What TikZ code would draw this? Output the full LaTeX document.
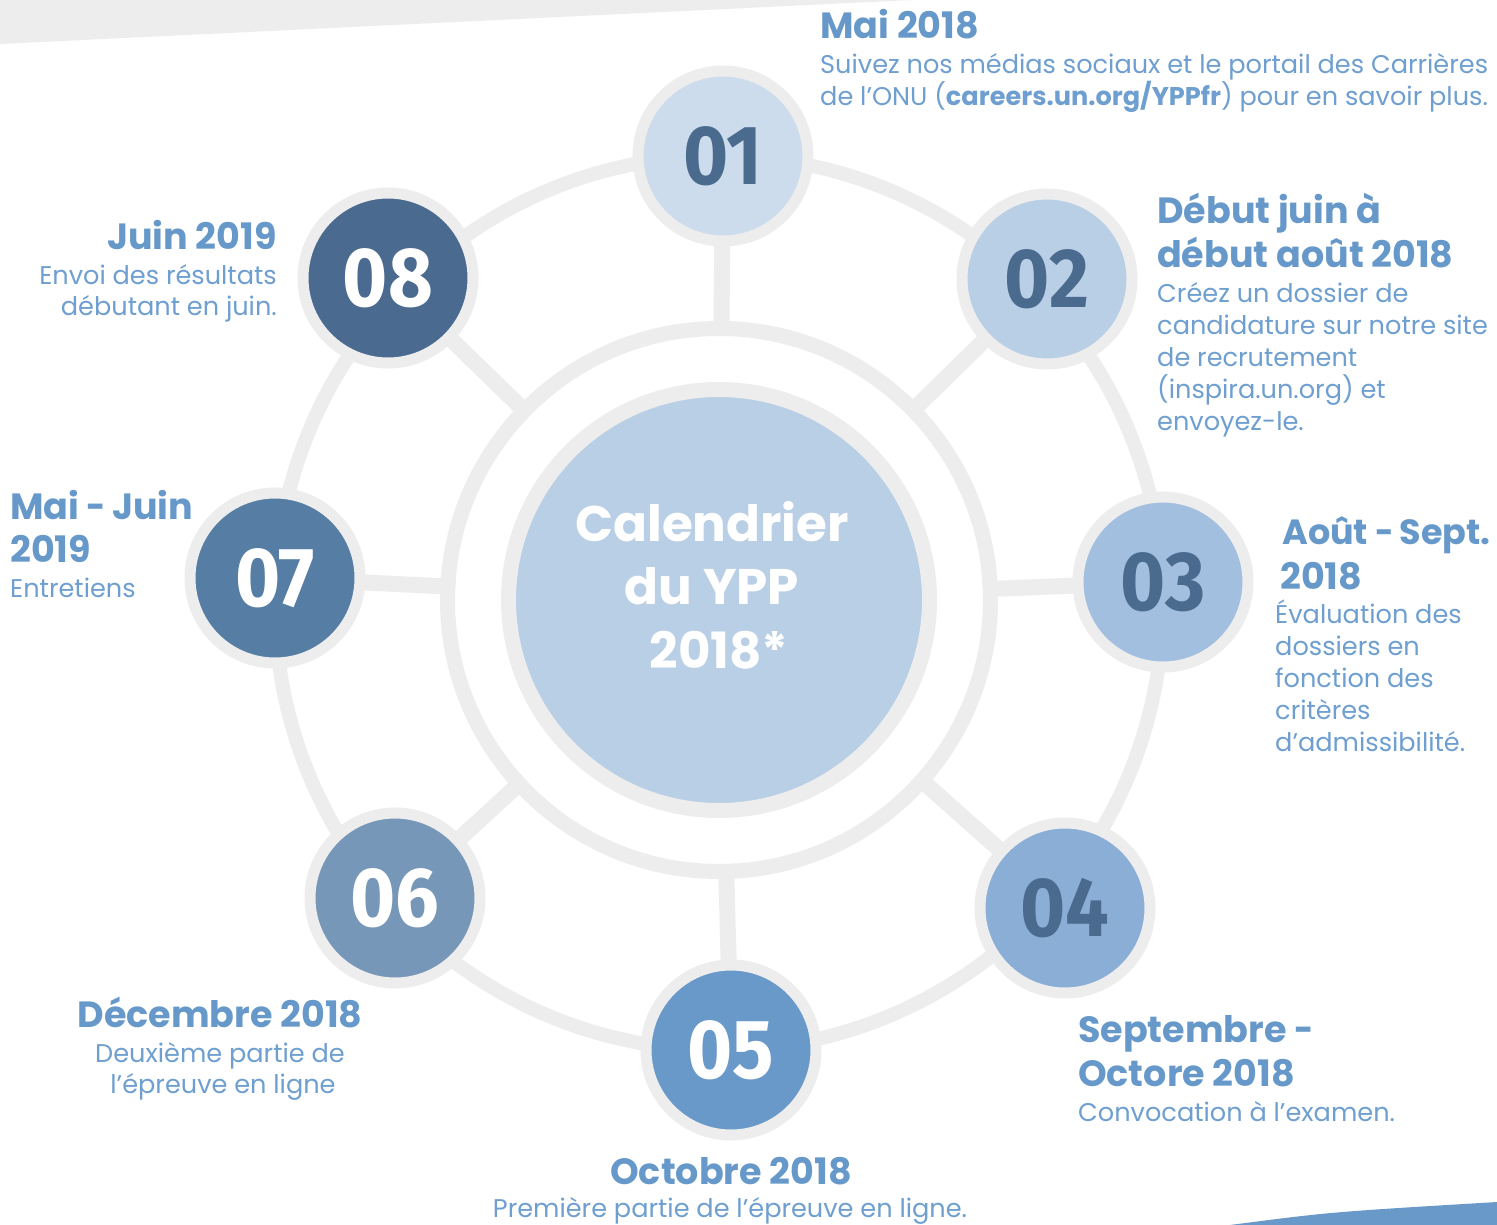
\documentclass[tikz,border=0pt]{standalone}
\usepackage{fontspec}
\setmainfont{Poppins}
\newfontfamily\numfont{Fira Sans}
\definecolor{gr}{HTML}{EDEDED}
\definecolor{tc}{HTML}{6699C9}
\definecolor{bc}{HTML}{6E9FD0}
\definecolor{nd}{HTML}{4A6A8E}
\definecolor{c1}{HTML}{CCDCEC}
\definecolor{c2}{HTML}{B9CFE6}
\definecolor{c3}{HTML}{A3BFDF}
\definecolor{c4}{HTML}{8AAED6}
\definecolor{c5}{HTML}{6999C9}
\definecolor{c6}{HTML}{7797B8}
\definecolor{c7}{HTML}{567EA5}
\definecolor{c8}{HTML}{4A6B8F}
\definecolor{cc}{HTML}{B9CFE5}
\tikzset{
  spoke/.style={draw=gr, line width=16},
  ring/.style={draw=gr, line width=14},
  stage/.style={circle, inner sep=0, minimum size=170, draw=gr, line width=11,
     font=\numfont\bfseries\fontsize{84}{84}\selectfont},
  bodyL/.style={anchor=base west, inner sep=0, text=bc, font=\fontsize{25.6}{30}\selectfont},
  bodyR/.style={bodyL, anchor=base east},
  bodyC/.style={bodyL, anchor=base},
  ttlL/.style={anchor=base west, inner sep=0, text=tc, font=\fontsize{36.5}{40}\selectfont\bfseries},
  ttlR/.style={ttlL, anchor=base east},
  ttlC/.style={ttlL, anchor=base},
  ctr/.style={anchor=base, inner sep=0, text=white, font=\fontsize{50}{60}\selectfont\bfseries},
}
\newcommand{\nb}[1]{\scalebox{0.92}[1]{#1}}
\newcommand{\sdash}{\hspace{0.2em}\scalebox{0.72}[1]{–}\hspace{0.2em}}
\begin{document}
\begin{tikzpicture}[x=1pt,y=-1pt]
\useasboundingbox (0,0) rectangle (1497,1225);
\fill[white] (0,0) rectangle (1497,1225);
\fill[gr] (0,0) -- (912,0) -- (0,44) -- cycle;
\fill[c5] (1230,1225) .. controls (1330,1212) .. (1497,1202) -- (1497,1225) -- cycle;

\coordinate (C) at (719,600);
\coordinate (p1) at (723,156);
\coordinate (p2) at (1047,279);
\coordinate (p3) at (1163,582);
\coordinate (p4) at (1065,908);
\coordinate (p5) at (731,1050);
\coordinate (p6) at (395,898);
\coordinate (p7) at (275,578);
\coordinate (p8) at (388,278);

\foreach \i in {1,...,8} { \draw[spoke] (p\i) -- (C); }
\draw[ring] (719,603) ellipse[x radius=444, y radius=447];
\fill[white] (C) circle[radius=264];
\draw[draw=gr, line width=15] (C) circle[radius=271.5];

\node[circle, inner sep=0, minimum size=421, fill=cc, draw=gr, line width=15] (center) at (C) {};
\node[ctr] (ct1) at (712,541) {Calendrier};
\node[ctr] (ct2) at (712,604) {du YPP};
\node[ctr] (ct3) at (719,668) {2018*};

\node[stage, fill=c1, text=nd] (n1) at (p1) {\nb{01}};
\node[stage, fill=c2, text=nd] (n2) at (p2) {\nb{02}};
\node[stage, fill=c3, text=nd] (n3) at (p3) {\nb{03}};
\node[stage, fill=c4, text=nd] (n4) at (p4) {\nb{04}};
\node[stage, fill=c5, text=white] (n5) at (p5) {\nb{05}};
\node[stage, fill=c6, text=white] (n6) at (p6) {\nb{06}};
\node[stage, fill=c7, text=white] (n7) at (p7) {\nb{07}};
\node[stage, fill=c8, text=white] (n8) at (p8) {\nb{08}};

% 01
\node[ttlL] (l1t) at (820,39) {Mai 2018};
\node[bodyL] (l1a) at (820,74) {Suivez nos médias sociaux et le portail des Carrières};
\node[bodyL] (l1b) at (820,106) {de l’ONU ({\bfseries careers.un.org/YPPfr}) pour en savoir plus.};
% 02
\node[ttlL] (l2t) at (1157,224) {Début juin à};
\node[ttlL] (l2u) at (1157,267) {début août 2018};
\node[bodyL] (l2a) at (1157,302) {Créez un dossier de};
\node[bodyL] (l2b) at (1157,334) {candidature sur notre site};
\node[bodyL] (l2c) at (1157,366) {de recrutement};
\node[bodyL] (l2d) at (1157,398) {(inspira.un.org) et};
\node[bodyL] (l2e) at (1157,430) {envoyez-le.};
% 03
\node[ttlL, font=\fontsize{35}{40}\selectfont\bfseries] (l3t) at (1282,544) {Août\sdash Sept.};
\node[ttlL] (l3u) at (1280,589) {2018};
\node[bodyL] (l3a) at (1275,623) {Évaluation des};
\node[bodyL] (l3b) at (1275,655) {dossiers en};
\node[bodyL] (l3c) at (1275,687) {fonction des};
\node[bodyL] (l3d) at (1275,719) {critères};
\node[bodyL] (l3e) at (1275,751) {d'admissibilité.};
% 04
\node[ttlL] (l4t) at (1078,1042) {Septembre\sdash};
\node[ttlL] (l4u) at (1078,1086) {Octore 2018};
\node[bodyL] (l4a) at (1078,1121) {Convocation à l'examen.};
% 05
\node[ttlC] (l5t) at (731,1184) {Octobre 2018};
\node[bodyC] (l5a) at (730,1217) {Première partie de l’épreuve en ligne.};
% 06
\node[ttlC] (l6t) at (220,1027) {Décembre 2018};
\node[bodyC] (l6a) at (220,1062) {Deuxième partie de};
\node[bodyC] (l6b) at (223,1093) {l’épreuve en ligne};
% 07
\node[ttlL] (l7t) at (10,519) {Mai\sdash Juin};
\node[ttlL] (l7u) at (10,562) {2019};
\node[bodyL] (l7a) at (10,597) {Entretiens};
% 08
\node[ttlR] (l8t) at (277,250) {Juin 2019};
\node[bodyR] (l8a) at (277,284) {Envoi des résultats};
\node[bodyR] (l8b) at (277,316) {débutant en juin.};
\end{tikzpicture}
\end{document}
